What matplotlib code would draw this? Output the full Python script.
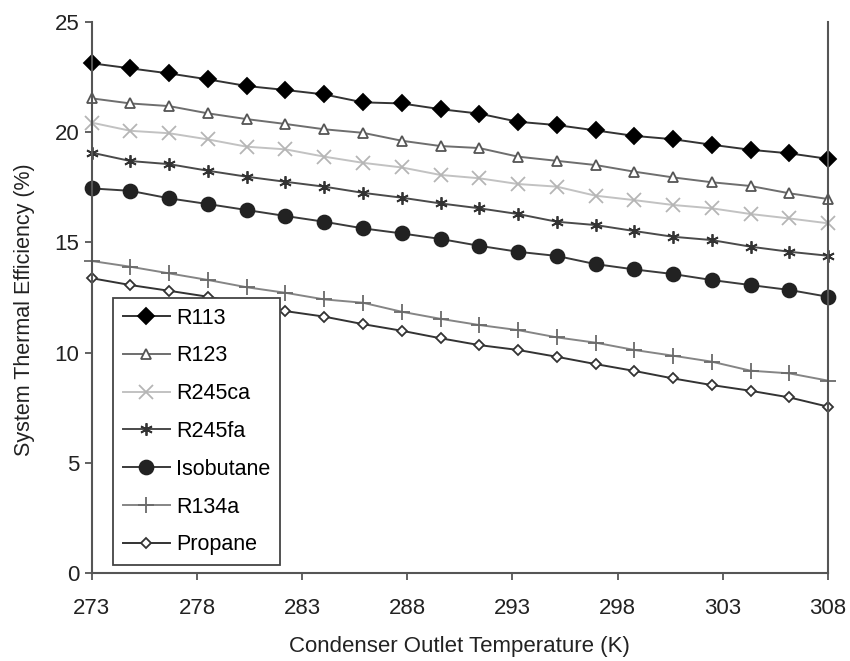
import matplotlib.pyplot as plt

plt.rcParams['font.family'] = ['Liberation Sans', 'DejaVu Sans']

# condenser outlet temperature (K)
temp = [273.00, 274.84, 276.68, 278.53, 280.37, 282.21, 284.05, 285.89, 287.74, 289.58,
        291.42, 293.26, 295.11, 296.95, 298.79, 300.63, 302.47, 304.32, 306.16, 308.00]

# system thermal efficiency (%) per working fluid
r113 = [23.12, 22.89, 22.66, 22.39, 22.09, 21.91, 21.71, 21.35, 21.30, 21.04,
        20.84, 20.47, 20.32, 20.08, 19.83, 19.68, 19.43, 19.20, 19.04, 18.79]
r123 = [21.53, 21.30, 21.18, 20.85, 20.59, 20.37, 20.13, 19.97, 19.61, 19.37,
        19.28, 18.89, 18.70, 18.51, 18.21, 17.95, 17.73, 17.56, 17.23, 16.97]
r245ca = [20.43, 20.06, 19.95, 19.67, 19.34, 19.22, 18.89, 18.61, 18.40, 18.06,
          17.91, 17.65, 17.53, 17.12, 16.92, 16.70, 16.55, 16.29, 16.09, 15.87]
r245fa = [19.07, 18.69, 18.55, 18.25, 17.98, 17.75, 17.53, 17.25, 17.03, 16.77,
          16.55, 16.29, 15.94, 15.79, 15.52, 15.26, 15.11, 14.81, 14.58, 14.40]
isobutane = [17.45, 17.34, 17.00, 16.74, 16.47, 16.20, 15.94, 15.64, 15.41, 15.16,
             14.85, 14.58, 14.39, 14.02, 13.78, 13.57, 13.30, 13.07, 12.85, 12.54]
r134a = [14.16, 13.90, 13.60, 13.30, 12.97, 12.72, 12.42, 12.27, 11.86, 11.54,
         11.26, 11.03, 10.70, 10.46, 10.13, 9.87, 9.60, 9.19, 9.07, 8.74]
propane = [13.38, 13.07, 12.81, 12.54, 12.21, 11.89, 11.64, 11.30, 11.00, 10.66,
           10.35, 10.13, 9.82, 9.49, 9.18, 8.84, 8.54, 8.28, 7.98, 7.56]

x_ticks = [273, 278, 283, 288, 293, 298, 303, 308]
y_ticks = [0, 5, 10, 15, 20, 25]

fig = plt.figure(figsize=(8.5, 6.61), dpi=100)
ax = fig.add_axes([0.108, 0.1324, 0.866, 0.8346])

# (label, values, line colour, marker, size, face, edge)
styles = [
    ("R113", r113, "#333333", "D", 8.5, "black", "black"),
    ("R123", r123, "#6e6e6e", "^", 7, "white", "#555555"),
    ("R245ca", r245ca, "#c2c2c2", "x", 10, "#b5b5b5", "#b5b5b5"),
    ("R245fa", r245fa, "#4a4a4a", (6, 2, 0), 9, "#333333", "#333333"),
    ("Isobutane", isobutane, "#3a3a3a", "o", 10, "#222222", "#222222"),
    ("R134a", r134a, "#858585", "+", 11, "#6a6a6a", "#6a6a6a"),
    ("Propane", propane, "#333333", "D", 5, "white", "#333333"),
]

for label, vals, col, mk, ms, fc, ec in styles:
    ax.plot(temp, vals, color=col, linewidth=1.4, marker=mk, markersize=ms,
            markerfacecolor=fc, markeredgecolor=ec, markeredgewidth=1.3,
            label=label, clip_on=False)

ax.set_xlim(273, 308)
ax.set_ylim(0, 25)
ax.set_xticks(x_ticks)
ax.set_yticks(y_ticks)
ax.tick_params(direction='out', length=5, width=1.3, color='#555555',
               labelsize=16, labelcolor='#222222')
ax.tick_params(axis='x', pad=13)
ax.tick_params(axis='y', pad=4)

for side in ['left', 'bottom', 'right']:
    ax.spines[side].set_color('#555555')
    ax.spines[side].set_linewidth(1.5)
ax.spines['top'].set_visible(False)

ax.set_xlabel("Condenser Outlet Temperature (K)", fontsize=16, color='#222222', labelpad=12)
ax.set_ylabel("System Thermal Efficiency (%)", fontsize=15.5, color='#222222')
ax.yaxis.set_label_coords(-0.077, 0.478)

leg = ax.legend(loc='lower left', bbox_to_anchor=(113 / 850, 1 - 565 / 661),
                bbox_transform=fig.transFigure, borderaxespad=0, fontsize=15.5,
                fancybox=False, framealpha=1, edgecolor='#444444',
                handlelength=2.2, handletextpad=0.27, labelspacing=0.78,
                borderpad=0.45)
leg.get_frame().set_linewidth(1.3)

plt.savefig("out.png", dpi=100)
